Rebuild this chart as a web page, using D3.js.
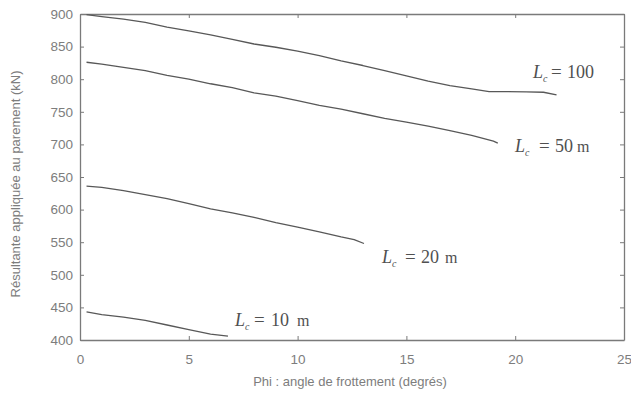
<!DOCTYPE html>
<html>
<head>
<meta charset="utf-8">
<script src="https://cdn.jsdelivr.net/npm/d3@7"></script>
<style>
  html, body { margin: 0; padding: 0; background: #fff; }
  svg { display: block; }
</style>
</head>
<body>
<svg id="chart" width="631" height="393"></svg>
<script>
// Friction angle (degrees) vs resultant force on the facing (kN), one curve per Lc
const phiLc100 = [0.3, 1, 2, 3, 4, 5, 6, 7, 8, 9, 10, 11, 12, 13, 14, 15, 16, 17, 18, 18.8, 19.5, 20.5, 21.3, 21.9];
const resLc100 = [899, 896, 892, 887, 880, 874, 868, 861, 854, 849, 843, 836, 828, 821, 813, 805, 797, 790, 785, 781, 781, 780.5, 780, 776];

const phiLc50 = [0.3, 1, 2, 3, 4, 5, 6, 7, 8, 9, 10, 11, 12, 13, 14, 15, 16, 17, 18, 19, 19.2];
const resLc50 = [826, 823, 818, 813, 806, 800, 793, 787, 779, 774, 767, 760, 754, 747, 740, 734, 728, 721, 714, 705, 702];

const phiLc20 = [0.3, 1, 2, 3, 4, 5, 6, 7, 8, 9, 10, 11, 12, 12.6, 13.05];
const resLc20 = [636, 634, 629, 623, 617, 609, 601, 595, 588, 580, 573, 566, 558, 554, 548];

const phiLc10 = [0.3, 1, 2, 3, 4, 5, 6, 6.8];
const resLc10 = [443, 439, 435, 430, 423, 416, 409, 406];

const xTicks = [0, 5, 10, 15, 20, 25];
const yTicks = [400, 450, 500, 550, 600, 650, 700, 750, 800, 850, 900];

const lcValues = ["100", "50", "20", "10"];
const lcUnits = ["", "m", "m", "m"];

const xTitle = "Phi : angle de frottement (degrés)";
const yTitle = "Résultante appliquée au parement (kN)";

// Label layout: left of "L", then left edges of "=", the number and the unit
const series = [
  { phi: phiLc100, res: resLc100, lc: 0, ly: 78,  xs: [533, 551, 567, 0] },
  { phi: phiLc50,  res: resLc50,  lc: 1, ly: 152, xs: [515, 539, 555, 577] },
  { phi: phiLc20,  res: resLc20,  lc: 2, ly: 263, xs: [382, 405, 421, 445] },
  { phi: phiLc10,  res: resLc10,  lc: 3, ly: 326, xs: [235, 254, 271, 297] }
];

const svg = d3.select("#chart");
const plotLeft = 80, plotRight = 624, plotTop = 14, plotBottom = 340;
const axisColor = "#7a7a7a";
const textColor = "#7d7d7d";
const lineColor = "#585858";
const sans = "Liberation Sans, Arial, sans-serif";
const serif = "Liberation Serif, Times New Roman, serif";

const x = d3.scaleLinear().domain([0, 25]).range([plotLeft, plotRight]);
const y = d3.scaleLinear().domain([400, 900]).range([plotBottom, plotTop]);

// Frame with inward ticks on all four sides
const tickLen = 4;
svg.append("g").attr("transform", `translate(0,${plotBottom})`)
  .call(d3.axisBottom(x).tickValues(xTicks).tickSizeInner(-tickLen).tickSizeOuter(0).tickFormat(d3.format("d")).tickPadding(14))
  .call(g => g.select(".domain").attr("stroke", axisColor).attr("stroke-width", 1.3))
  .call(g => g.selectAll(".tick line").attr("stroke", axisColor))
  .call(g => g.selectAll(".tick text").attr("fill", textColor).attr("font-family", sans).attr("font-size", 13.5));

svg.append("g").attr("transform", `translate(0,${plotTop})`)
  .call(d3.axisTop(x).tickValues(xTicks).tickSizeInner(-tickLen).tickSizeOuter(0).tickFormat(""))
  .call(g => g.select(".domain").attr("stroke", axisColor).attr("stroke-width", 1.3))
  .call(g => g.selectAll(".tick line").attr("stroke", axisColor));

svg.append("g").attr("transform", `translate(${plotLeft},0)`)
  .call(d3.axisLeft(y).tickValues(yTicks).tickSizeInner(-tickLen).tickSizeOuter(0).tickFormat(d3.format("d")).tickPadding(7))
  .call(g => g.select(".domain").attr("stroke", axisColor).attr("stroke-width", 1.3))
  .call(g => g.selectAll(".tick line").attr("stroke", axisColor))
  .call(g => g.selectAll(".tick text").attr("fill", textColor).attr("font-family", sans).attr("font-size", 13.5));

svg.append("g").attr("transform", `translate(${plotRight},0)`)
  .call(d3.axisRight(y).tickValues(yTicks).tickSizeInner(-tickLen).tickSizeOuter(0).tickFormat(""))
  .call(g => g.select(".domain").attr("stroke", axisColor).attr("stroke-width", 1.3))
  .call(g => g.selectAll(".tick line").attr("stroke", axisColor));

// Curves and their Lc labels
const line = d3.line().x(d => x(d[0])).y(d => y(d[1]));
series.forEach(s => {
  const pts = s.phi.map((p, i) => [p, s.res[i]]);
  svg.append("path")
    .datum(pts)
    .attr("d", line)
    .attr("fill", "none")
    .attr("stroke", lineColor)
    .attr("stroke-width", 1.3)
    .attr("stroke-linejoin", "round");

  const t = svg.append("text")
    .attr("y", s.ly)
    .attr("fill", "#505050")
    .attr("font-family", serif)
    .attr("font-size", 18);
  t.append("tspan").attr("x", s.xs[0]).attr("font-style", "italic").text("L");
  t.append("tspan").attr("font-style", "italic").attr("font-size", 10).attr("dy", 4).text("c");
  t.append("tspan").attr("x", s.xs[1]).attr("dy", -4).attr("font-size", 19).text("=");
  t.append("tspan").attr("x", s.xs[2]).text(lcValues[s.lc]);
  if (lcUnits[s.lc]) t.append("tspan").attr("x", s.xs[3]).attr("font-size", 16).text(lcUnits[s.lc]);
});

// Axis titles
svg.append("text")
  .attr("x", 350).attr("y", 386)
  .attr("text-anchor", "middle")
  .attr("fill", textColor)
  .attr("font-family", sans)
  .attr("font-size", 13)
  .text(xTitle);

svg.append("text")
  .attr("transform", `translate(20,${(plotTop + plotBottom) / 2 + 7}) rotate(-90)`)
  .attr("text-anchor", "middle")
  .attr("fill", textColor)
  .attr("font-family", sans)
  .attr("font-size", 13)
  .text(yTitle);
</script>
</body>
</html>
